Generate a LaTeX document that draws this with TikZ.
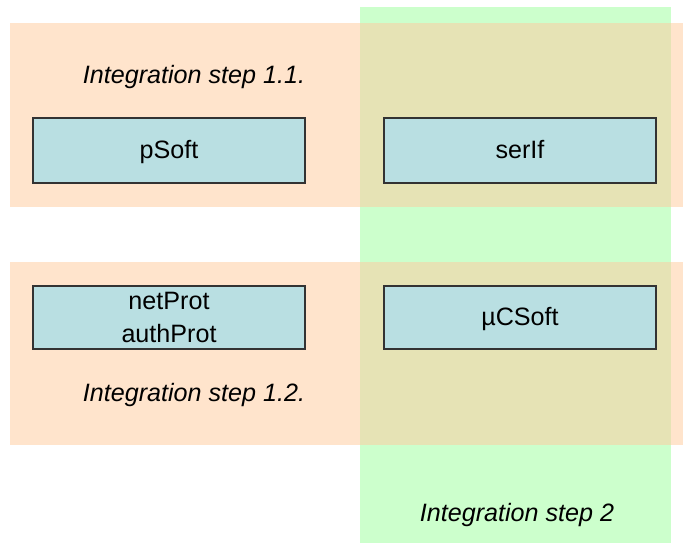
\documentclass[tikz,border=0pt]{standalone}
\usepackage{fontspec}
\setmainfont{Liberation Sans}
\usetikzlibrary{positioning}
\definecolor{isPeach}{HTML}{FFE4CC}
\definecolor{isGreen}{HTML}{CCFFCC}
\definecolor{isMix}{HTML}{E6E3B5}
\definecolor{isBox}{HTML}{B9DFE2}
\definecolor{isEdge}{HTML}{333333}
\tikzset{
  is band/.style={fill=isPeach},
  is lane/.style={fill=isGreen},
  is mix/.style={fill=isMix},
  is module/.style={draw=isEdge, fill=isBox, line width=.27mm,
    minimum width=54.4mm, minimum height=13mm, inner sep=0,
    align=center, font=\fontsize{14.3}{18.4}\selectfont},
  is single/.style={is module, text height=1.75ex, text depth=0pt},
  is caption/.style={font=\fontsize{14.3}{18}\selectfont\itshape, inner sep=0}
}
\begin{document}
\begin{tikzpicture}[x=.2mm,y=-.2mm]
  \useasboundingbox (0,0) rectangle (683,544);
  % integration bands
  \path[is band] (10,23) rectangle (683,207);
  \path[is band] (10,262) rectangle (683,445);
  \path[is lane] (360,7) rectangle (671,543);
  \path[is mix] (360,23) rectangle (671,207);
  \path[is mix] (360,262) rectangle (671,445);

  % modules
  \node[is single] (psoft) at (169,150.5) {pSoft};
  \node[is single] (serif) at (520,150.5) {serIf};
  \node[is module, minimum height=12.6mm] (prot) at (169,317.5) {netProt\\authProt};
  \node[is single, minimum height=12.6mm] (ucsoft) at (520,317.5) {µCSoft};

  \node[is caption] (step11) at (194,77) {Integration step 1.1.};
  \node[is caption] (step12) at (194,395) {Integration step 1.2.};
  \node[is caption] (step2) at (517,515) {Integration step 2};
\end{tikzpicture}
\end{document}
